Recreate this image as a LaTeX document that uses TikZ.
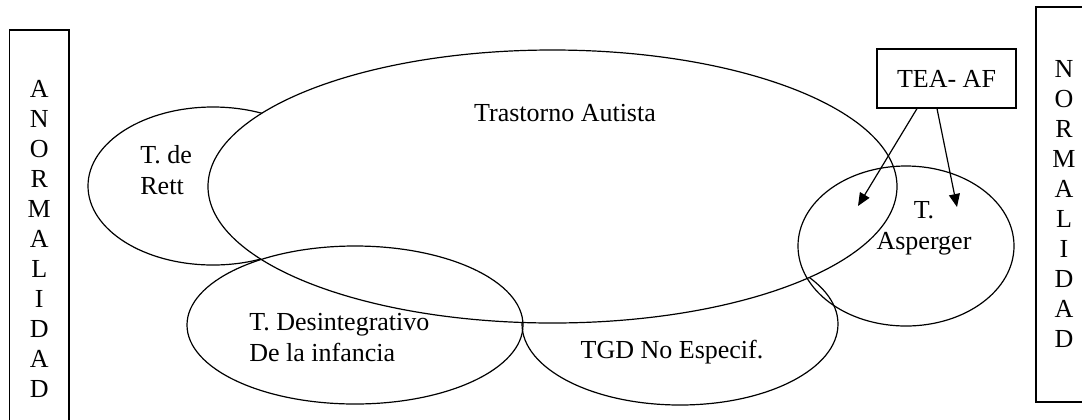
\documentclass[tikz,border=0pt]{standalone}
\usepackage{fontspec}
\setmainfont{Liberation Serif}
\usetikzlibrary{positioning, shapes.geometric, arrows.meta}

\begin{document}
\begin{tikzpicture}[x=0.5pt, y=-0.5pt, >={Triangle[length=6.5pt, width=5.5pt]},
    every node/.style={font=\fontsize{13}{15.5}\selectfont},
    tgdset/.style={draw, ellipse, line width=0.6pt, inner sep=0pt},
    sidebox/.style={draw, rectangle, line width=0.6pt, align=center, font=\fontsize{13}{15}\selectfont},
    lbl/.style={inner sep=0pt}]
    \useasboundingbox (0,0) rectangle (1082,419);

    % side boxes
    \node [sidebox, minimum width=29.75pt, minimum height=208.5pt] (anorm) at (39.25,238.5) {A\\N\\O\\R\\M\\A\\L\\I\\D\\A\\D};
    \node [sidebox, minimum width=28pt, minimum height=197.5pt] (norm) at (1064,204.5) {N\\O\\R\\M\\A\\L\\I\\D\\A\\D};

    % trastornos (white fill hides what lies behind)
    \node [tgdset, fill=white, minimum width=158pt, minimum height=81pt] (tgdne) at (680,324) {};
    \node [tgdset, fill=white, minimum width=125pt, minimum height=79pt] (rett) at (213,186) {};
    \node [tgdset, fill=white, minimum width=344.5pt, minimum height=136.5pt] (autista) at (552.5,186.5) {};
    \node [tgdset, minimum width=168pt, minimum height=79pt] (desint) at (355,325) {};
    \node [tgdset, minimum width=108pt, minimum height=80pt] (asperger) at (906,246) {};

    \node [lbl] (autista-lbl) at (565,113) {Trastorno Autista};
    \node [lbl, align=left, anchor=west] (rett-lbl) at (140,170) {T. de\\Rett};
    \node [lbl, align=left, anchor=west] (desint-lbl) at (249,337.5) {T. Desintegrativo\\De la infancia};
    \node [lbl] (tgdne-lbl) at (672,352) {TGD No Especif.};
    \node [lbl, align=center] (asperger-lbl) at (924,228) {T.\\Asperger};

    % alto funcionamiento
    \node [draw, rectangle, line width=0.6pt, minimum width=69.5pt, minimum height=29.5pt] (tea) at (946.5,78.5) {TEA- AF};
    \coordinate (tea-a) at (858,206);
    \coordinate (tea-b) at (957,207);
    \draw [->, line width=0.6pt] ([xshift=-14.75pt]tea.south) -- (tea-a);
    \draw [->, line width=0.6pt] ([xshift=-4.75pt]tea.south) -- (tea-b);
\end{tikzpicture}
\end{document}
